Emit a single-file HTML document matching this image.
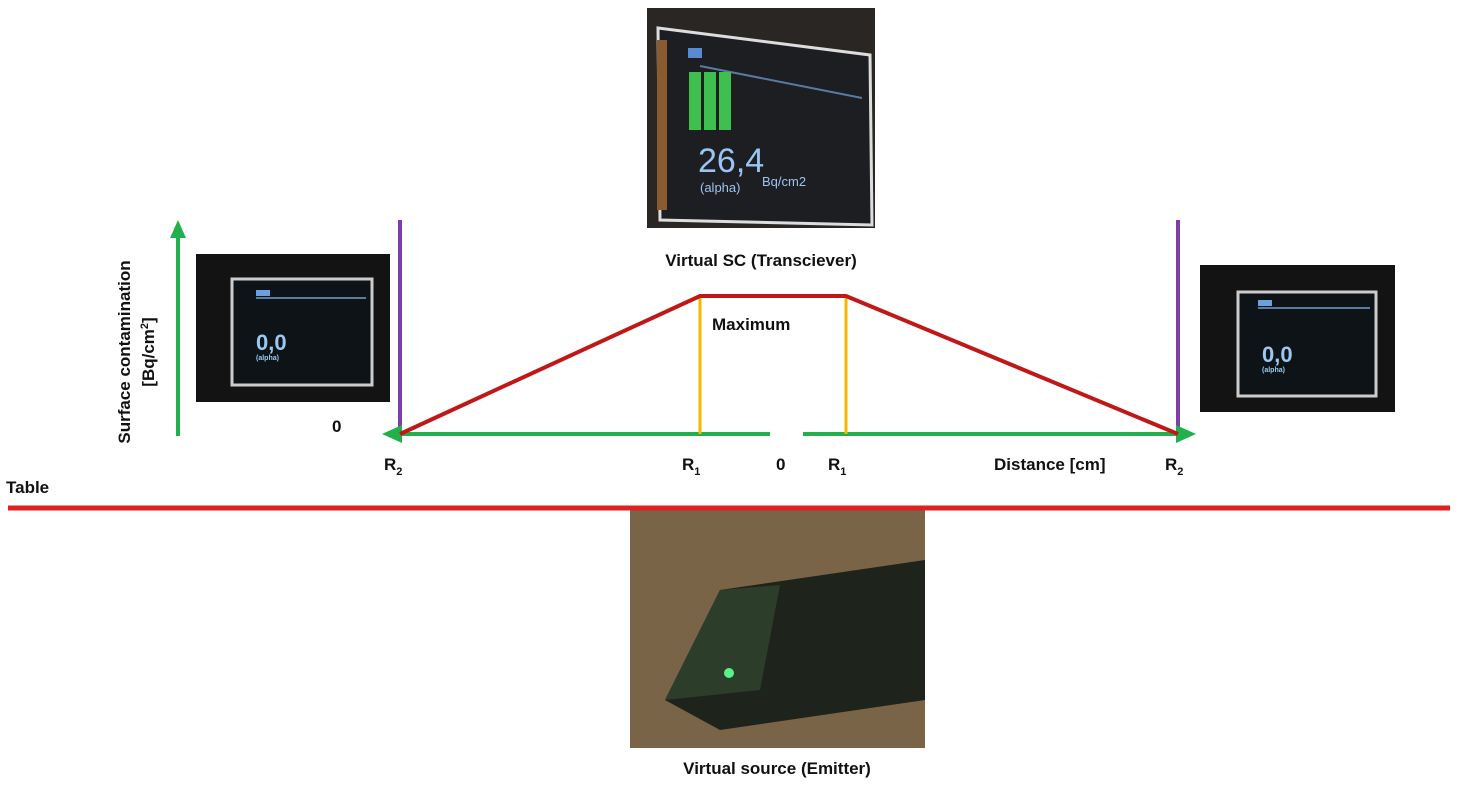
<!DOCTYPE html>
<html><head><meta charset="utf-8"><style>
html,body{margin:0;padding:0;background:#fff;width:1464px;height:785px;overflow:hidden}
svg text{font-family:"Liberation Sans",sans-serif;font-weight:bold;fill:#111}
</style></head><body>
<svg width="1464" height="785" viewBox="0 0 1464 785" xmlns="http://www.w3.org/2000/svg">
<!-- top photo -->
<rect x="647" y="8" width="228" height="220" fill="#2a2624"/>
<polygon points="658,28 870,55 872,225 660,220" fill="#1c1e22" stroke="#ddd" stroke-width="3"/>
<rect x="657" y="40" width="10" height="170" fill="#8a5a30"/>
<rect x="688" y="48" width="14" height="10" fill="#5a8ad0"/>
<line x1="700" y1="66" x2="862" y2="98" stroke="#5a7aa0" stroke-width="2"/>
<rect x="689" y="72" width="12" height="58" fill="#3fbf4f"/>
<rect x="704" y="72" width="12" height="58" fill="#3fbf4f"/>
<rect x="719" y="72" width="12" height="58" fill="#3fbf4f"/>
<text x="698" y="172" style="font-size:34px;font-weight:normal;fill:#9cc4f0">26,4</text>
<text x="762" y="186" style="font-size:13px;font-weight:normal;fill:#9cc4f0">Bq/cm2</text>
<text x="700" y="192" style="font-size:13px;font-weight:normal;fill:#9cc4f0">(alpha)</text>
<text x="761" y="266" text-anchor="middle" style="font-size:17px">Virtual SC (Transciever)</text>
<!-- left photo -->
<rect x="196" y="254" width="194" height="148" fill="#131313"/>
<rect x="232" y="279" width="140" height="106" fill="#0e1318" stroke="#ccc" stroke-width="3"/>
<rect x="256" y="290" width="14" height="6" fill="#6aa0e0"/>
<line x1="256" y1="298" x2="366" y2="298" stroke="#5a7aa0" stroke-width="2"/>
<text x="256" y="350" style="font-size:22px;fill:#9cc8f0">0,0</text>
<text x="256" y="360" style="font-size:7px;fill:#9cc8f0">(alpha)</text>
<!-- right photo -->
<rect x="1200" y="265" width="195" height="147" fill="#131313"/>
<rect x="1238" y="292" width="138" height="104" fill="#0e1318" stroke="#ccc" stroke-width="3"/>
<rect x="1258" y="300" width="14" height="6" fill="#6aa0e0"/>
<line x1="1258" y1="308" x2="1370" y2="308" stroke="#5a7aa0" stroke-width="2"/>
<text x="1262" y="362" style="font-size:22px;fill:#9cc8f0">0,0</text>
<text x="1262" y="372" style="font-size:7px;fill:#9cc8f0">(alpha)</text>
<!-- bottom photo -->
<rect x="630" y="510" width="295" height="238" fill="#7a6448"/>
<polygon points="720,590 925,560 925,700 720,730 665,700" fill="#1e231c"/>
<polygon points="665,700 720,590 780,585 760,690" fill="#2c3e2a"/>
<circle cx="729" cy="673" r="5" fill="#5cf08a"/>
<text x="777" y="774" text-anchor="middle" style="font-size:17px">Virtual source (Emitter)</text>
<!-- y axis -->
<line x1="178" y1="436" x2="178" y2="232" stroke="#22b04c" stroke-width="4"/>
<polygon points="170,238 186,238 178,220" fill="#22b04c"/>
<text transform="translate(130,352) rotate(-90)" text-anchor="middle" style="font-size:17px">Surface contamination</text>
<text transform="translate(154,352) rotate(-90)" text-anchor="middle" style="font-size:17px">[Bq/cm<tspan dy="-6" style="font-size:11px">2</tspan><tspan dy="6">]</tspan></text>
<!-- purple verticals -->
<line x1="400" y1="220" x2="400" y2="436" stroke="#7a3fa8" stroke-width="4"/>
<line x1="1178" y1="220" x2="1178" y2="436" stroke="#7a3fa8" stroke-width="4"/>
<!-- green axis -->
<line x1="395" y1="434" x2="770" y2="434" stroke="#22b04c" stroke-width="4"/>
<line x1="803" y1="434" x2="1185" y2="434" stroke="#22b04c" stroke-width="4"/>
<polygon points="382,434 402,425 402,443" fill="#22b04c"/>
<polygon points="1196,434 1176,425 1176,443" fill="#22b04c"/>
<!-- yellow -->
<line x1="700" y1="296" x2="700" y2="434" stroke="#f5b800" stroke-width="3"/>
<line x1="846" y1="296" x2="846" y2="434" stroke="#f5b800" stroke-width="3"/>
<!-- red trapezoid -->
<polyline points="400,434 700,296 846,296 1178,434" fill="none" stroke="#c01818" stroke-width="4"/>
<text x="712" y="330" style="font-size:17px">Maximum</text>
<!-- labels -->
<text x="332" y="432" style="font-size:17px">0</text>
<text x="384" y="470" style="font-size:17px">R<tspan dy="5" style="font-size:11px">2</tspan></text>
<text x="682" y="470" style="font-size:17px">R<tspan dy="5" style="font-size:11px">1</tspan></text>
<text x="776" y="470" style="font-size:17px">0</text>
<text x="828" y="470" style="font-size:17px">R<tspan dy="5" style="font-size:11px">1</tspan></text>
<text x="994" y="470" style="font-size:17px">Distance [cm]</text>
<text x="1165" y="470" style="font-size:17px">R<tspan dy="5" style="font-size:11px">2</tspan></text>
<text x="6" y="493" style="font-size:17px">Table</text>
<line x1="8" y1="508" x2="1450" y2="508" stroke="#e02020" stroke-width="5"/>
</svg>
</body></html>
